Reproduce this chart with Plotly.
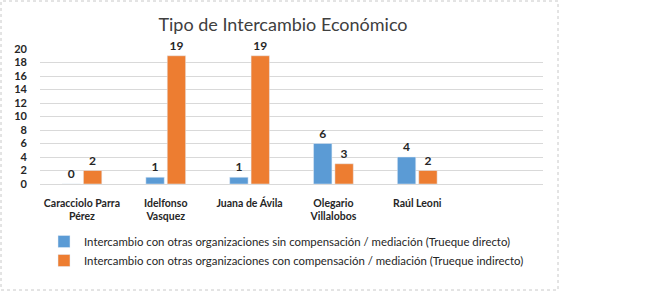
import plotly.graph_objects as go

categories = ["Caracciolo Parra<br>Pérez", "Idelfonso<br>Vasquez", "Juana de Ávila", "Olegario<br>Villalobos", "Raúl Leoni"]
series_names = [
    "Intercambio con otras organizaciones sin compensación / mediación (Trueque directo)",
    "Intercambio con otras organizaciones con compensación / mediación (Trueque indirecto)",
]
directo = [0, 1, 1, 6, 4]
indirecto = [2, 19, 19, 3, 2]
colors = ["#5B9BD5", "#ED7D31"]
y_ticks = list(range(0, 21, 2))

FONT = "Lato, Liberation Sans, sans-serif"

W, H = 661, 292
L, R, T, B = 40, 543, 49, 184

fig = go.Figure()
for name, vals, c in zip(series_names, [directo, indirecto], colors):
    fig.add_trace(go.Bar(
        x=categories, y=vals, name=name, marker_color=c,
        text=[str(v) for v in vals], textposition="outside",
        textfont=dict(family=FONT, size=12, color="#262626", weight="bold"),
        cliponaxis=False,
    ))

def px_x(px):
    return (px - L) / (R - L)

def px_y(py):
    return (B - py) / (B - T)

fig.add_shape(type="rect", xref="paper", yref="paper",
              x0=px_x(1), x1=px_x(558), y0=px_y(290), y1=px_y(1),
              line=dict(color="#C8C8C8", width=1, dash="dot"), layer="below")

fig.update_layout(
    width=W, height=H,
    margin=dict(l=L, r=W - R, t=T, b=H - B, pad=0, autoexpand=False),
    paper_bgcolor="white", plot_bgcolor="white",
    barmode="group", bargap=0.49, bargroupgap=0.14,
    title=dict(text="Tipo de Intercambio Económico", x=283 / W,
               xanchor="center", y=1 - 25 / H, yanchor="middle",
               font=dict(family=FONT, size=18, color="#404040")),
    showlegend=True,
    legend=dict(x=px_x(44), y=px_y(227), xanchor="left", yanchor="top",
                font=dict(family=FONT, size=11.4, color="#262626"),
                itemwidth=30, tracegroupgap=4, bgcolor="rgba(0,0,0,0)"),
    xaxis=dict(range=[-0.5, 5.5], showgrid=False, showline=True, linecolor="#D9D9D9",
               ticks="", ticklabelstandoff=9,
               tickfont=dict(family=FONT, size=10.5, color="#262626", weight="bold"),
               tickangle=0),
    yaxis=dict(range=[0, 20], tickvals=y_ticks, showgrid=True, gridcolor="#D9D9D9",
               zeroline=False, ticks="", showline=False, ticklabelstandoff=12,
               tickfont=dict(family=FONT, size=11, color="#262626", weight="bold")),
)

fig.write_html("out.html", post_script="document.body.style.margin='0';",
               config={"displayModeBar": False})
